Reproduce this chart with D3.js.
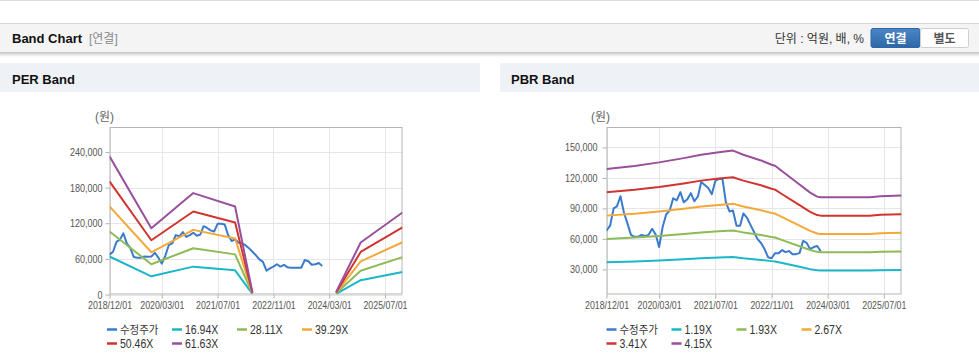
<!DOCTYPE html>
<html><head><meta charset="utf-8">
<script src="https://cdn.jsdelivr.net/npm/d3@7"></script>
<style>
body{margin:0;background:#fff;}
svg{display:block;font-family:"Liberation Sans",Arial,"Noto Sans CJK KR",sans-serif;}
</style></head><body><svg id="c" width="979" height="361"></svg>
<script>
// ---------- data ----------
const xTickLabels = ["2018/12/01","2020/03/01","2021/07/01","2022/11/01","2024/03/01","2025/07/01"];
const xDomain = ["2018/12/01","2025/12/01"];
const priceMonths = ["2018-12","2019-01","2019-02","2019-03","2019-04","2019-05","2019-06","2019-07","2019-08","2019-09","2019-10","2019-11",
  "2019-12","2020-01","2020-02","2020-03","2020-04","2020-05","2020-06","2020-07","2020-08","2020-09","2020-10","2020-11",
  "2020-12","2021-01","2021-02","2021-03","2021-04","2021-05","2021-06","2021-07","2021-08","2021-09","2021-10","2021-11",
  "2021-12","2022-01","2022-02","2022-03","2022-04","2022-05","2022-06","2022-07","2022-08","2022-09","2022-10","2022-11",
  "2022-12","2023-01","2023-02","2023-03","2023-04","2023-05","2023-06","2023-07","2023-08","2023-09","2023-10","2023-11",
  "2023-12","2024-01"];
const perPrice = [67000,72000,89000,92000,103000,86000,78000,63000,62000,62000,64000,63500,
  64000,70000,62000,52000,65000,83000,86000,100000,98000,105000,97000,100000,
  104000,99000,101000,115000,112000,108000,106000,119000,119000,118000,100000,90000,
  93000,87000,86000,83000,78000,72000,66000,59000,55000,40000,44000,47000,
  51000,47000,50000,46000,45000,45000,45000,45000,58000,56000,50000,51000,
  53000,48000];
const pbrPrice = [68000,73000,90000,92000,102000,86000,75000,64000,62000,62000,64000,63000,
  64000,70000,64000,52000,72000,84000,88000,100000,98000,106000,96000,99000,
  105000,97000,102000,116000,113000,110000,104000,117000,119000,119000,96000,87000,
  88000,73000,73000,85000,81000,74000,67000,60000,56000,50000,42000,41000,
  46000,46000,49000,47000,48000,45000,45000,46000,58000,56000,50000,52000,
  53000,48000];
const priceLabel = "수정주가";
const perMultiples = [16.94, 28.11, 39.29, 50.46, 61.63];
const perBandLabels = ["16.94X","28.11X","39.29X","50.46X","61.63X"];
const epsMonths = ["2018-12","2019-12","2020-12","2021-12","2022-05",null,"2024-05","2024-12","2025-12"];
const epsValues = [3774,1809,2770,2403,60,null,70,1420,2240];
const pbrMultiples = [1.19, 1.93, 2.67, 3.41, 4.15];
const pbrBandLabels = ["1.19X","1.93X","2.67X","3.41X","4.15X"];
const bpsMonths = ["2018-12","2019-08","2020-03","2020-10","2021-03","2021-08","2021-12","2022-03","2022-08","2022-11",
  "2022-12","2023-02","2023-07","2023-10","2023-12","2024-01","2025-03","2025-06","2025-12"];
const bpsValues = [31050,31760,32600,33610,34410,34990,35400,34410,33060,32050,
  31810,30480,27350,25420,24480,24310,24310,24580,24720];
const perYTicks = [0,60000,120000,180000,240000];
const perYDomain = [0,282000];
const pbrYTicks = [30000,60000,90000,120000,150000];
const pbrYDomain = [5300,170100];
const seriesColors = ["#3a7bcc","#1db6c8","#8dbb55","#f3a83a","#d0352f","#9a4f9c"];

// horizontally condense a text to mimic the narrow reference font
function condense(sel, f){
  sel.each(function(){
    const w = this.getComputedTextLength();
    if (w > 0) d3.select(this).attr("textLength", w*f).attr("lengthAdjust","spacingAndGlyphs");
  });
}

// ---------- page chrome ----------
const svg = d3.select("#c");
const defs = svg.append("defs");
const sh = defs.append("linearGradient").attr("id","shadow").attr("x1",0).attr("x2",0).attr("y1",0).attr("y2",1);
sh.append("stop").attr("offset","0%").attr("stop-color","#d0d0d0");
sh.append("stop").attr("offset","100%").attr("stop-color","#ffffff");
const bg = defs.append("linearGradient").attr("id","btn").attr("x1",0).attr("x2",0).attr("y1",0).attr("y2",1);
bg.append("stop").attr("offset","0%").attr("stop-color","#4a86c6");
bg.append("stop").attr("offset","100%").attr("stop-color","#2d67a6");

svg.append("rect").attr("x",0).attr("y",0).attr("width",979).attr("height",1).attr("fill","#dcdcdc");
svg.append("rect").attr("x",0).attr("y",23).attr("width",979).attr("height",30).attr("fill","#f4f4f4");
svg.append("rect").attr("x",0).attr("y",23).attr("width",979).attr("height",1).attr("fill","#d6d6d6");
svg.append("rect").attr("x",0).attr("y",52).attr("width",979).attr("height",1).attr("fill","#c8c8c8");
svg.append("rect").attr("x",0).attr("y",53).attr("width",979).attr("height",4).attr("fill","url(#shadow)");
svg.append("text").attr("x",12).attr("y",43).attr("font-size",13).attr("font-weight","bold").attr("fill","#111").text("Band Chart");
svg.append("text").attr("x",89).attr("y",43).attr("font-size",12).attr("fill","#8a8a8a").text("[연결]");
svg.append("text").attr("x",864).attr("y",43).attr("font-size",12).attr("fill","#333").attr("text-anchor","end").text("단위 : 억원, 배, %");
svg.append("rect").attr("x",871).attr("y",28.5).attr("width",49).attr("height",19).attr("rx",2).attr("fill","url(#btn)").attr("stroke","#2d67a6");
svg.append("text").attr("x",895.5).attr("y",42.5).attr("font-size",12).attr("font-weight","bold").attr("fill","#fff").attr("text-anchor","middle").text("연결");
svg.append("rect").attr("x",920.5).attr("y",28.5).attr("width",48).attr("height",19).attr("rx",2).attr("fill","#fff").attr("stroke","#cfcfcf");
svg.append("text").attr("x",944.5).attr("y",42.5).attr("font-size",12).attr("font-weight","bold").attr("fill","#555").attr("text-anchor","middle").text("별도");

// panel headers
[[0,480,"PER Band",12],[500,479,"PBR Band",511]].forEach(([x,w,t,tx])=>{
  svg.append("rect").attr("x",x).attr("y",63).attr("width",w).attr("height",29).attr("fill","#eef2f7");
  svg.append("text").attr("x",tx).attr("y",84).attr("font-size",13).attr("font-weight","bold").attr("fill","#111").text(t);
});

// ---------- charts ----------
const parseM = d3.timeParse("%Y-%m");
const parseD = d3.timeParse("%Y/%m/%d");

function drawChart(cfg, id){
  const x = d3.scaleTime().domain(xDomain.map(parseD)).range([cfg.left, cfg.right]);
  const y = d3.scaleLinear().domain(cfg.yDomain).range([cfg.bottom, cfg.top]);
  const g = svg.append("g");
  const tickDates = xTickLabels.map(parseD);
  g.selectAll(".vg").data(tickDates).enter().append("line")
    .attr("x1",d=>Math.round(x(d))+0.5).attr("x2",d=>Math.round(x(d))+0.5)
    .attr("y1",cfg.top).attr("y2",cfg.bottom).attr("stroke","#e6e6e6");
  g.selectAll(".hg").data(cfg.yTicks).enter().append("line")
    .attr("x1",cfg.left).attr("x2",cfg.right)
    .attr("y1",d=>Math.round(y(d))+0.5).attr("y2",d=>Math.round(y(d))+0.5).attr("stroke","#e6e6e6");
  const yAxis = d3.axisLeft(y).tickValues(cfg.yTicks).tickSize(4).tickPadding(3).tickFormat(d3.format(","));
  const ya = g.append("g").attr("transform",`translate(${cfg.left},0)`).call(yAxis);
  const xAxis = d3.axisBottom(x).tickValues(tickDates).tickSize(4).tickPadding(3).tickFormat(d3.timeFormat("%Y/%m/%d"));
  const xa = g.append("g").attr("transform",`translate(0,${cfg.bottom})`).call(xAxis);
  [ya,xa].forEach(a=>{
    a.select(".domain").remove();
    a.selectAll(".tick line").attr("stroke","#b0b0b0");
    a.selectAll(".tick text").attr("font-family",'"Liberation Sans",Arial,sans-serif').attr("font-size",11).attr("fill","#555");
  });
  ya.selectAll(".tick text").attr("dx", cfg.ydx);
  condense(ya.selectAll(".tick text"), 0.82);
  condense(xa.selectAll(".tick text"), 0.8);
  g.append("rect").attr("x",cfg.left+0.5).attr("y",cfg.top+0.5).attr("width",cfg.right-cfg.left-1).attr("height",cfg.bottom-cfg.top-1)
    .attr("fill","none").attr("stroke","#b4b4b4");
  g.append("text").attr("x",cfg.unitX).attr("y",121).attr("font-size",12).attr("fill","#666").text("(원)");
  defs.append("clipPath").attr("id","clip"+id).append("rect").attr("x",cfg.left).attr("y",cfg.top).attr("width",cfg.right-cfg.left).attr("height",cfg.bottom-cfg.top);
  const lg = g.append("g").attr("clip-path",`url(#clip${id})`);
  const line = d3.line().defined(d=>d.v!=null).x(d=>x(d.d)).y(d=>y(d.v));
  const price = priceMonths.map((m,i)=>({d:parseM(m), v:cfg.price[i]}));
  lg.append("path").datum(price).attr("d",line).attr("fill","none").attr("stroke",seriesColors[0]).attr("stroke-width",2).attr("stroke-linejoin","round");
  cfg.multiples.forEach((mul,k)=>{
    const data = cfg.baseMonths.map((m,i)=>({d: m?parseM(m):null, v: cfg.baseValues[i]==null?null:cfg.baseValues[i]*mul}));
    lg.append("path").datum(data).attr("d",line).attr("fill","none").attr("stroke",seriesColors[k+1]).attr("stroke-width",2).attr("stroke-linejoin","round");
  });
  const labels = [priceLabel].concat(cfg.labels);
  labels.forEach((t,i)=>{
    const row = i<4?0:1, col = i<4?i:i-4;
    const lx = cfg.legendX + col*65, ly = row===0?329.5:343.5;
    g.append("line").attr("x1",lx).attr("x2",lx+10).attr("y1",ly).attr("y2",ly).attr("stroke",seriesColors[i]).attr("stroke-width",2.5);
    const tx = g.append("text").attr("x",lx+13).attr("y",ly+4.5).attr("fill","#333").text(t);
    if (i===0) { tx.attr("font-size",11).attr("font-family",'"Noto Sans CJK KR",sans-serif'); condense(tx, 0.95); }
    else { tx.attr("font-size",12.5); condense(tx, 0.84); }
  });
}

drawChart({left:109.5,right:402.5,top:127,bottom:294.5,yDomain:perYDomain,yTicks:perYTicks,price:perPrice,
  multiples:perMultiples,labels:perBandLabels,baseMonths:epsMonths,baseValues:epsValues,unitX:95,legendX:107,ydx:0},"per");
drawChart({left:606.5,right:901.5,top:127,bottom:294.5,yDomain:pbrYDomain,yTicks:pbrYTicks,price:pbrPrice,
  multiples:pbrMultiples,labels:pbrBandLabels,baseMonths:bpsMonths,baseValues:bpsValues,unitX:591,legendX:606.5,ydx:-2},"pbr");
</script></body></html>
